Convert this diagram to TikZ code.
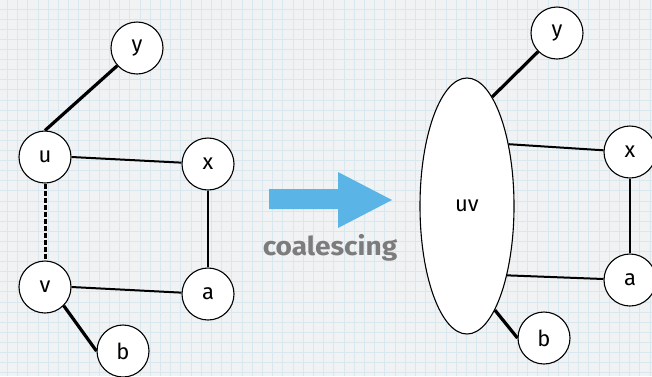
\documentclass[tikz,border=0pt]{standalone}
\usepackage{fontspec}
\setmainfont{Fira Sans}
\usetikzlibrary{shapes.geometric}
\definecolor{bgc}{HTML}{F1F2F3}
\definecolor{gridc}{HTML}{D9E8EE}
\definecolor{arrowc}{HTML}{5AB4E6}
\definecolor{textg}{HTML}{7C7C7C}
\tikzset{
  vert/.style={circle, draw=black, line width=1.1pt, fill=white, minimum size=52pt, inner sep=0pt, font=\fontsize{22}{22}\selectfont},
  edge/.style={line width=2pt},
  thickedge/.style={line width=3.2pt},
}
\begin{document}
\begin{tikzpicture}[x=1pt,y=-1pt]
\useasboundingbox (0,0) rectangle (652,376);
\fill[bgc] (0,0) rectangle (652,376);
\foreach \i in {0,...,64} {
  \draw[gridc, line width=0.8pt] ({7.3+10.2*\i},0) -- ({7.3+10.2*\i},376);
}
\foreach \j in {0,...,37} {
  \draw[gridc, line width=0.8pt] (0,{9+10.1*\j}) -- (652,{9+10.1*\j});
}
% left graph
\node[vert] (y) at (137,48) {y};
\node[vert] (u) at (45,157) {u};
\node[vert] (x) at (208,164) {x};
\node[vert] (v) at (45,287) {v};
\node[vert] (a) at (208,294) {a};
\node[vert] (b) at (123,351) {b};
\draw[thickedge] (u.north) -- (y);
\draw[edge] (u.east) -- (x);
\draw[edge] (v.east) -- (a);
\draw[edge] (x) -- (a);
\draw[line width=3pt, dash pattern=on 5pt off 2pt] (u) -- (v);
\draw[thickedge] (v.-45) -- (b.west);
% arrow
\fill[arrowc] (269,189) -- (338,189) -- (338,172) -- (392,200) -- (338,228) -- (338,209) -- (269,209) -- cycle;
\node[font=\bfseries\fontsize{26}{26}\selectfont, text=textg] (lab) at (330,248) {\scalebox{1.08}[1]{coalescing}};
% right graph
\node[ellipse, draw=black, line width=1.1pt, fill=white, minimum width=94pt, minimum height=256pt, inner sep=0pt, font=\fontsize{22}{22}\selectfont] (uv) at (467,206) {uv};
\node[vert] (y2) at (557,33) {y};
\node[vert] (x2) at (630,152) {x};
\node[vert] (a2) at (630,280) {a};
\node[vert] (b2) at (544,338) {b};
\draw[thickedge] (uv.77) -- (y2);
\draw[edge] (uv.56) -- (x2);
\draw[edge] (uv.-60) -- (a2);
\draw[edge] (x2) -- (a2);
\draw[thickedge] (uv.-75) -- (b2.west);
\end{tikzpicture}
\end{document}
